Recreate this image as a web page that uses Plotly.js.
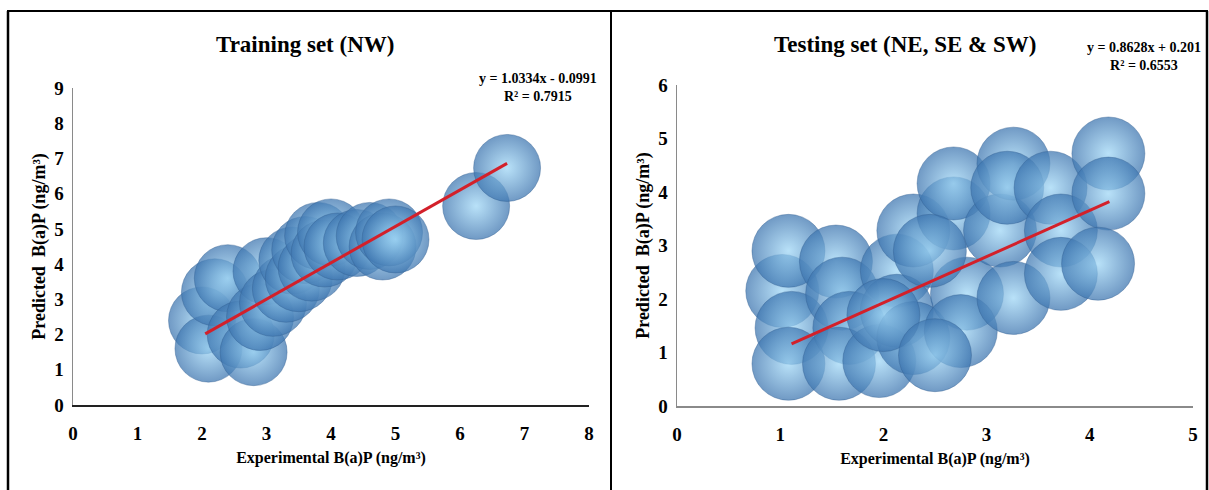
<!DOCTYPE html>
<html>
<head>
<meta charset="utf-8">
<script src="https://cdn.plot.ly/plotly-3.0.1.min.js"></script>
<style>html,body{margin:0;padding:0;background:#fff;}#chart{width:1209px;height:490px;}</style>
</head>
<body>
<div id="chart"></div>
<script>
// Training set (NW)
const trainX = [2.00, 2.10, 2.20, 2.40, 2.60, 2.80, 2.90, 3.00, 3.10, 3.30, 3.40, 3.50, 3.60, 3.70, 3.80, 3.90, 4.00, 4.10, 4.40, 4.60, 4.80, 4.90, 5.00, 6.25, 6.73];
const trainY = [2.40, 1.60, 3.20, 3.60, 2.00, 1.50, 2.50, 3.80, 2.90, 3.30, 4.10, 3.60, 4.40, 3.90, 4.80, 4.30, 4.90, 4.50, 4.60, 4.80, 4.50, 4.90, 4.70, 5.65, 6.73];
const trainTrendX = [2.05, 6.73];
const trainTrendY = [2.02, 6.86];

// Testing set (NE, SE & SW)
const testX = [1.02, 1.08, 1.11, 1.08, 1.54, 1.60, 1.67, 1.57, 1.96, 2.13, 2.13, 2.29, 2.29, 2.68, 2.68, 2.81, 2.75, 3.13, 3.26, 3.20, 3.26, 3.62, 3.72, 3.72, 4.18, 4.18, 4.08, 2.45, 2.00, 2.50];
const testY = [2.15, 2.90, 1.46, 0.79, 2.70, 2.10, 1.46, 0.79, 0.84, 2.53, 1.78, 3.28, 1.27, 3.60, 4.16, 2.10, 1.40, 3.28, 4.53, 4.08, 2.02, 4.08, 3.28, 2.47, 4.72, 3.97, 2.66, 2.90, 1.70, 0.95];
const testTrendX = [1.11, 4.19];
const testTrendY = [1.16, 3.82];

const xTicksTrain = [0,1,2,3,4,5,6,7,8];
const yTicksTrain = [0,1,2,3,4,5,6,7,8,9];
const xTicksTest = [0,1,2,3,4,5];
const yTicksTest = [0,1,2,3,4,5,6];

const bubbleMarker = (d) => ({
  size: d, color: 'rgba(62,118,176,0.74)',
  gradient: {type: 'radial', color: 'rgba(160,215,246,0.74)'},
  line: {width: 0.8, color: 'rgba(50,95,145,0.5)'}
});

const traces = [
  {x: trainX, y: trainY, type: 'scatter', mode: 'markers', marker: bubbleMarker(67), xaxis: 'x', yaxis: 'y', hoverinfo: 'x+y'},
  {x: trainTrendX, y: trainTrendY, type: 'scatter', mode: 'lines', line: {color: '#d3202a', width: 3}, xaxis: 'x', yaxis: 'y'},
  {x: testX, y: testY, type: 'scatter', mode: 'markers', marker: bubbleMarker(73), xaxis: 'x2', yaxis: 'y2', hoverinfo: 'x+y'},
  {x: testTrendX, y: testTrendY, type: 'scatter', mode: 'lines', line: {color: '#d3202a', width: 3}, xaxis: 'x2', yaxis: 'y2'}
];

const serif = '"Liberation Serif", "Times New Roman", serif';
const tickFont = {family: serif, size: 19, color: '#000', weight: 'bold'};
const xTitleFont = {family: serif, size: 16, color: '#000', weight: 'bold'};
const yTitleFont = {family: serif, size: 18, color: '#000', weight: 'bold'};

function xa(domain, range, tickvals, linecolor) {
  return {domain, range, tickvals, showgrid: false, zeroline: false, showline: true, linecolor, linewidth: 1.5,
    ticks: 'outside', ticklen: 11, tickcolor: 'rgba(0,0,0,0)', tickfont: tickFont, fixedrange: true,
    title: {text: 'Experimental B(a)P (ng/m³)', font: xTitleFont, standoff: 8}};
}
function ya(domain, range, tickvals, anchor) {
  return {domain, range, tickvals, showgrid: false, zeroline: false, showline: true, linecolor: '#8a8a8a', linewidth: 1.5,
    ticks: 'outside', ticklen: 4, tickcolor: 'rgba(0,0,0,0)', tickfont: tickFont, fixedrange: true, anchor,
    title: {text: 'Predicted &nbsp;B(a)P (ng/m³)', font: yTitleFont, standoff: 4}};
}

const layout = {
  width: 1209, height: 490, margin: {l: 0, r: 0, t: 0, b: 0},
  paper_bgcolor: '#fff', plot_bgcolor: 'rgba(0,0,0,0)', showlegend: false,
  xaxis: Object.assign(xa([73/1209, 589/1209], [0, 8], xTicksTrain, '#222'), {anchor: 'y'}),
  yaxis: ya([85/490, 402/490], [0, 9], yTicksTrain, 'x'),
  xaxis2: Object.assign(xa([677/1209, 1193/1209], [0, 5], xTicksTest, '#8a8a8a'), {anchor: 'y2'}),
  yaxis2: ya([84/490, 405/490], [0, 6], yTicksTest, 'x2'),
  annotations: [
    {text: 'Training set (NW)', xref: 'paper', yref: 'paper', x: 305/1209, y: 1 - 45/490, xanchor: 'center', yanchor: 'middle', showarrow: false,
     font: {family: serif, size: 23, color: '#000', weight: 'bold'}},
    {text: 'Testing set (NE, SE &amp; SW)', xref: 'paper', yref: 'paper', x: 905/1209, y: 1 - 45/490, xanchor: 'center', yanchor: 'middle', showarrow: false,
     font: {family: serif, size: 23, color: '#000', weight: 'bold'}},
    {text: 'y = 1.0334x - 0.0991<br>R² = 0.7915', xref: 'paper', yref: 'paper', x: 538/1209, y: 1 - 87/490,
     xanchor: 'center', yanchor: 'middle', showarrow: false, align: 'center', font: {family: serif, size: 14, color: '#000', weight: 'bold'}},
    {text: 'y = 0.8628x + 0.201<br>R² = 0.6553', xref: 'paper', yref: 'paper', x: 1144/1209, y: 1 - 56/490,
     xanchor: 'center', yanchor: 'middle', showarrow: false, align: 'center', font: {family: serif, size: 14, color: '#000', weight: 'bold'}}
  ],
  shapes: [
    {type: 'line', xref: 'paper', yref: 'paper', x0: 7/1209, x1: 1208/1209, y0: 1 - 11/490, y1: 1 - 11/490, line: {color: '#000', width: 2}},
    {type: 'line', xref: 'paper', yref: 'paper', x0: 8/1209, x1: 8/1209, y0: 0, y1: 1 - 11/490, line: {color: '#000', width: 2.5}},
    {type: 'line', xref: 'paper', yref: 'paper', x0: 611/1209, x1: 611/1209, y0: 0, y1: 1 - 11/490, line: {color: '#000', width: 2}},
    {type: 'line', xref: 'paper', yref: 'paper', x0: 1207/1209, x1: 1207/1209, y0: 0, y1: 1 - 11/490, line: {color: '#000', width: 2.5}}
  ]
};

Plotly.newPlot('chart', traces, layout, {displayModeBar: false, staticPlot: true});
</script>
</body>
</html>
